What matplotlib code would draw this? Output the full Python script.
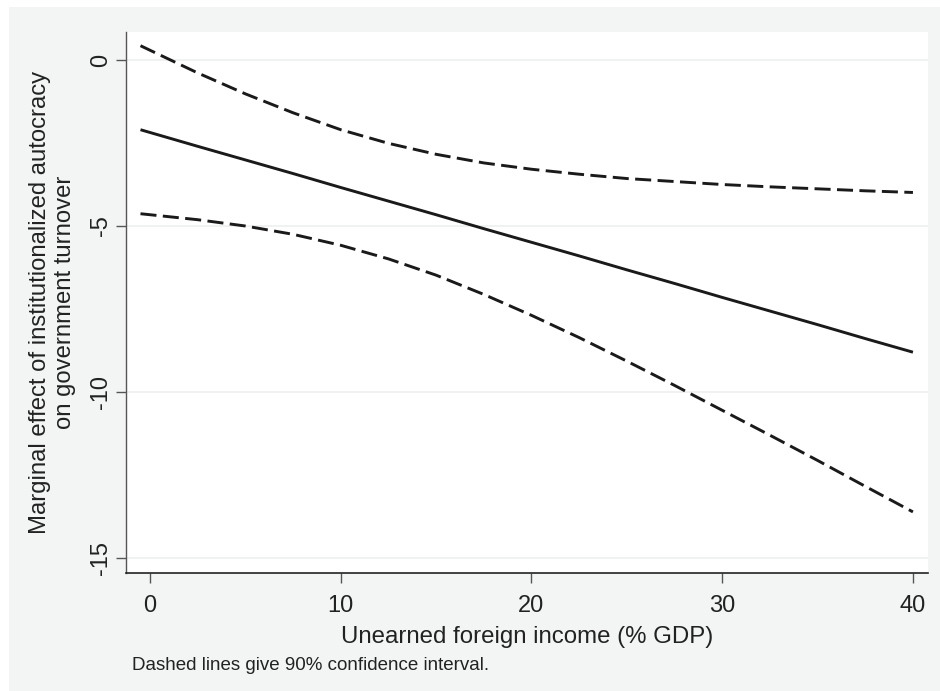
import matplotlib
matplotlib.use("Agg")
import matplotlib.pyplot as plt
from matplotlib.patches import Rectangle

plt.rcParams['font.family'] = ['Liberation Sans', 'DejaVu Sans']

# Marginal effect estimates and 90% confidence bounds
income = [-0.5, 2.5, 5, 7.5, 10, 12.5, 15, 17.5, 20, 22.5, 25, 27.5, 30, 32.5, 35, 37.5, 40]
effect = [-2.10, -2.60, -3.01, -3.42, -3.84, -4.25, -4.66, -5.08, -5.49, -5.90, -6.32,
          -6.73, -7.15, -7.56, -7.97, -8.39, -8.80]
upper = [0.43, -0.39, -1.02, -1.59, -2.10, -2.51, -2.84, -3.10, -3.29, -3.44, -3.57,
         -3.66, -3.75, -3.82, -3.88, -3.94, -3.99]
lower = [-4.63, -4.81, -5.00, -5.25, -5.58, -5.99, -6.48, -7.06, -7.69, -8.36, -9.07,
         -9.80, -10.55, -11.30, -12.06, -12.84, -13.61]

x_ticks = [0, 10, 20, 30, 40]
y_ticks = [0, -5, -10, -15]

W, H = 940, 691
fig = plt.figure(figsize=(W / 100, H / 100), dpi=100, facecolor='white')

# light graph region behind the plot
fig.patches.append(Rectangle((9 / W, 0), 1 - 9 / W, (H - 7) / H, transform=fig.transFigure,
                             facecolor='#f3f5f5', edgecolor='none', zorder=-10))

ax = fig.add_axes([126 / W, 1 - 573 / H, (928 - 126) / W, (573 - 32) / H])
ax.set_zorder(5)
ax.set_facecolor('white')

line_color = '#1a1a1a'
ax.plot(income, effect, color=line_color, lw=2.1, solid_capstyle='butt', zorder=3)
for bound in (upper, lower):
    ax.plot(income, bound, color=line_color, lw=2.1, linestyle=(0, (5.5, 2.2)),
            dash_capstyle='butt', zorder=3)

ax.set_xlim(-1.26, 40.79)
ax.set_ylim(-15.45, 0.843)
ax.set_xticks(x_ticks)
ax.set_yticks(y_ticks)
ax.set_xticklabels([str(v) for v in x_ticks])
ax.set_yticklabels([str(v) for v in y_ticks], rotation=90, va='center')

for y in y_ticks:
    ax.axhline(y, color='#edf0f0', lw=1.2, zorder=1)

for side in ('top', 'right'):
    ax.spines[side].set_visible(False)
ax.spines['left'].set_color('#555555')
ax.spines['left'].set_linewidth(1.0)
ax.spines['bottom'].set_color('#222222')
ax.spines['bottom'].set_linewidth(1.2)

ax.tick_params(axis='both', direction='out', length=7, width=1.0, color='#555555',
               labelsize=17, labelcolor='#222222')
ax.tick_params(axis='x', pad=9)
ax.tick_params(axis='y', pad=3)

ax.set_xlabel('Unearned foreign income (% GDP)', fontsize=17.3, color='#222222', labelpad=6)
ax.set_ylabel('Marginal effect of institutionalized autocracy\non government turnover',
              fontsize=17.2, color='#222222', labelpad=10, linespacing=1.2)

fig.text(132 / W, 1 - 666 / H, 'Dashed lines give 90% confidence interval.',
         fontsize=13.5, color='#222222', ha='left', va='center')

fig.savefig('out.png', dpi=100, facecolor='white')
